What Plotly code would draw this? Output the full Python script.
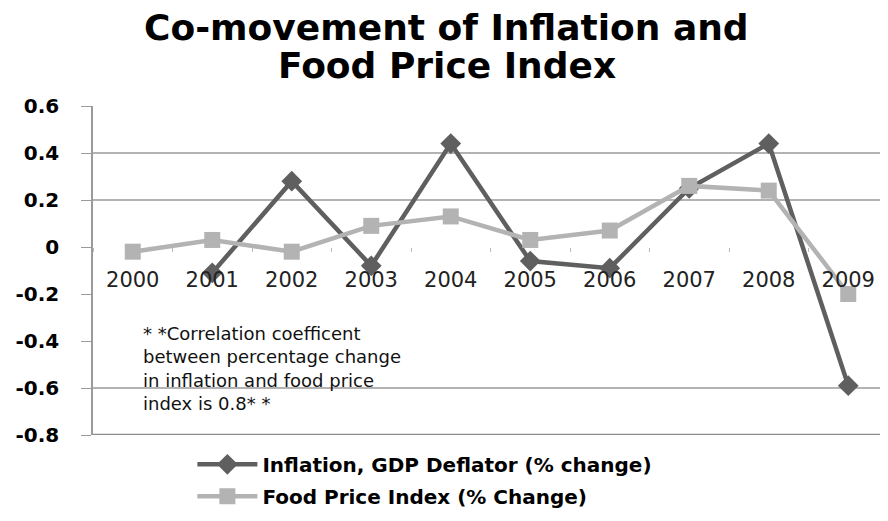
import plotly.graph_objects as go

years = ["2000", "2001", "2002", "2003", "2004", "2005", "2006", "2007", "2008", "2009"]
inflation = [None, -0.11, 0.28, -0.08, 0.44, -0.06, -0.09, 0.25, 0.44, -0.59]
food_price = [-0.02, 0.03, -0.02, 0.09, 0.13, 0.03, 0.07, 0.26, 0.24, -0.2]
y_ticks = [-0.8, -0.6, -0.4, -0.2, 0, 0.2, 0.4, 0.6]
y_tick_text = ["-0.8", "-0.6", "-0.4", "-0.2", "0", "0.2", "0.4", "0.6"]
grid_lines = [0.4, 0.2, -0.6]

title_lines = ["Co-movement of Inflation and", "Food Price Index"]
note = ("* *Correlation coefficent<br>between percentage change<br>"
        "in inflation and food price<br>index is 0.8* *")

fig = go.Figure()

for g in grid_lines:
    fig.add_hline(y=g, line=dict(color="#9a9a9a", width=1.5), layer="below")
fig.add_hline(y=-0.8, line=dict(color="#8c8c8c", width=2.5), layer="below")

fig.add_trace(go.Scatter(
    x=years, y=inflation,
    mode="lines+markers",
    name="Inflation, GDP Deflator (% change)",
    line=dict(color="#5f5f5f", width=4.5),
    marker=dict(symbol="diamond", size=16, color="#5f5f5f"),
    legendgroup="a",
))
fig.add_trace(go.Scatter(
    x=years, y=food_price,
    mode="lines+markers",
    name="Food Price Index (% Change)",
    line=dict(color="#b3b3b3", width=4.5),
    marker=dict(symbol="square", size=16, color="#b3b3b3"),
    legendgroup="b",
))

fig.add_annotation(
    x=0.1, y=-0.315, xref="x", yref="y",
    xanchor="left", yanchor="top",
    text=note, showarrow=False, align="left",
    font=dict(family="DejaVu Sans", size=18, color="#111111"),
)

# title as two centred lines above the plot
for txt, ty in zip(title_lines, [1.238, 1.124]):
    fig.add_annotation(
        x=0.445, y=ty, xref="paper", yref="paper",
        xanchor="center", yanchor="middle",
        text=txt, showarrow=False,
        font=dict(family="DejaVu Sans", size=36, color="#000000", weight="bold"),
    )

fig.update_layout(
    width=888, height=521,
    margin=dict(l=80, r=8, t=98, b=94),
    paper_bgcolor="white", plot_bgcolor="white",
    xaxis=dict(
        type="category", range=[-0.5, 9.5],
        anchor="free", position=0.8 / 1.4,
        showline=False, showgrid=False, zeroline=False,
        ticks="outside", tickson="boundaries", ticklen=4, tickcolor="#bbbbbb",
        ticklabelstandoff=18,
        tickfont=dict(family="DejaVu Sans", size=21, color="#222222"),
    ),
    yaxis=dict(
        range=[-0.8, 0.6],
        tickvals=y_ticks, ticktext=y_tick_text,
        showgrid=False, zeroline=False,
        showline=True, linecolor="#9a9a9a", linewidth=1.5,
        ticks="outside", ticklen=10, tickcolor="#9a9a9a",
        ticklabelstandoff=18,
        tickfont=dict(family="DejaVu Sans", size=20, color="#000000", weight="bold"),
    ),
    legend=dict(
        orientation="v", x=0.125, xanchor="left", y=-0.03, yanchor="top",
        traceorder="grouped", tracegroupgap=3,
        itemwidth=60,
        font=dict(family="DejaVu Sans", size=20, color="#000000", weight="bold"),
    ),
    showlegend=True,
)

fig.write_html("out.html")
